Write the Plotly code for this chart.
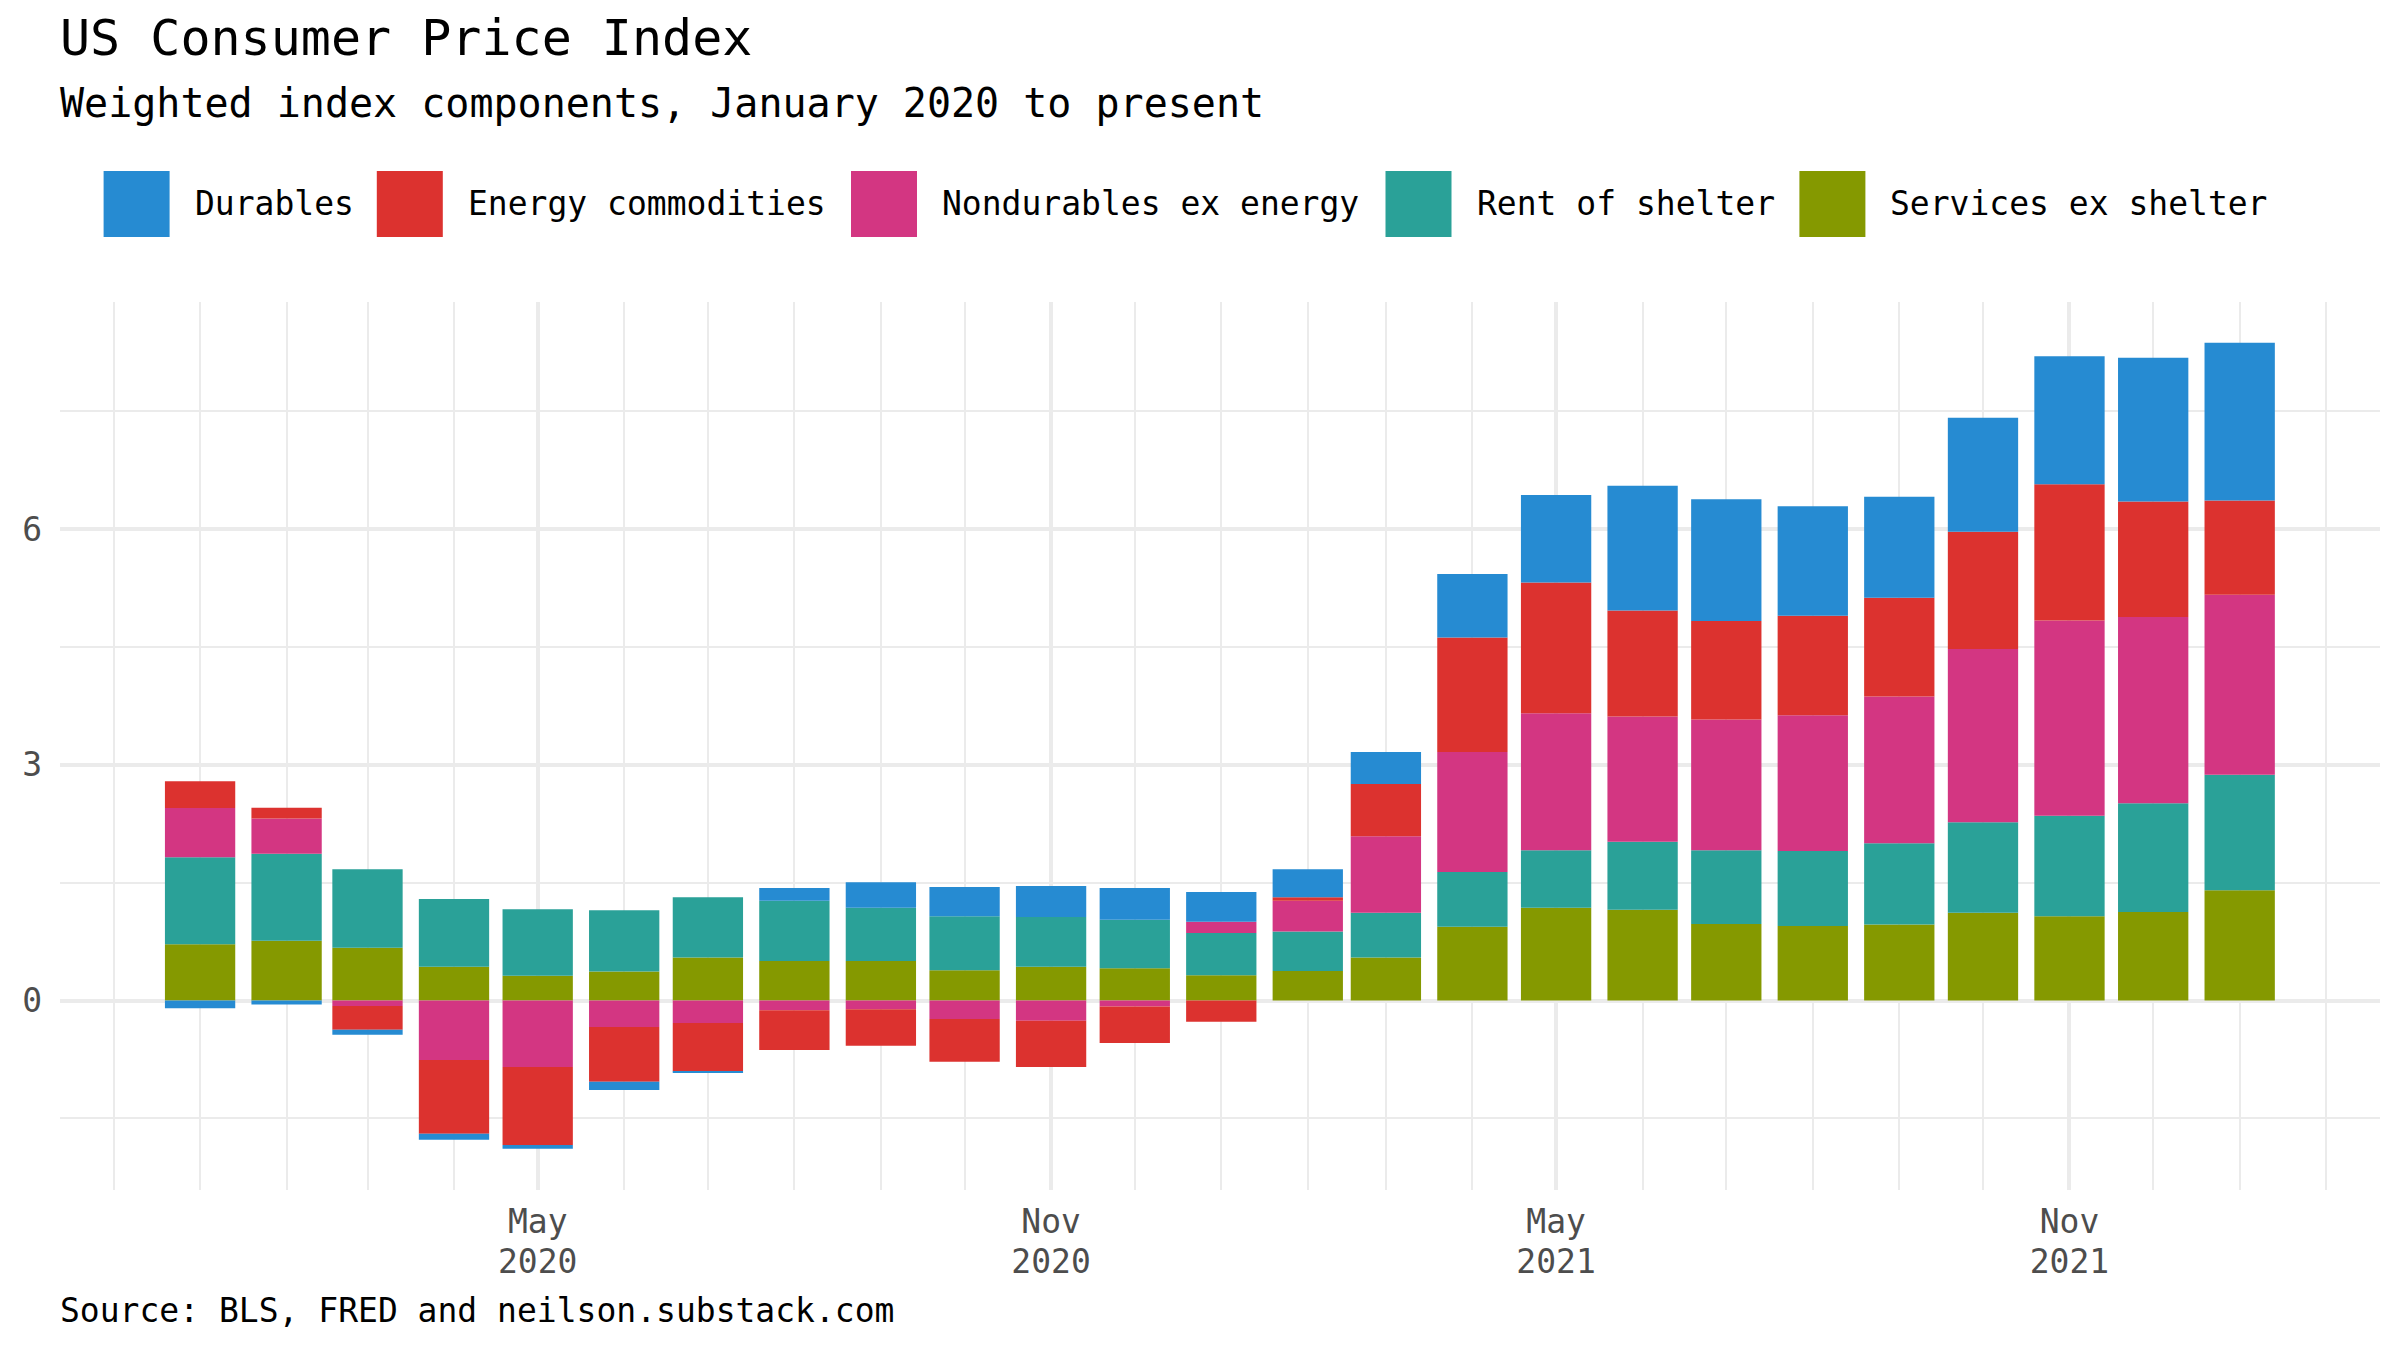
import pandas as pd
import plotly.graph_objects as go

# ---------------- data ----------------
months = pd.date_range("2020-01-01", "2022-01-01", freq="MS").strftime("%Y-%m-%d").tolist()

services_ex_shelter = [0.717, 0.762, 0.673, 0.431, 0.315, 0.369, 0.548, 0.503, 0.503, 0.387, 0.431, 0.413,
                       0.324, 0.378, 0.548, 0.940, 1.182, 1.155, 0.976, 0.949, 0.967, 1.118, 1.073, 1.127, 1.405]
rent_of_shelter = [1.107, 1.107, 1.000, 0.862, 0.849, 0.781, 0.768, 0.768, 0.678, 0.688, 0.634, 0.617,
                   0.536, 0.500, 0.571, 0.697, 0.732, 0.866, 0.938, 0.956, 1.036, 1.153, 1.278, 1.385, 1.470]
nondurables_ex_energy = [0.626, 0.447, -0.067, -0.756, -0.845, -0.337, -0.284, -0.122, -0.109, -0.234, -0.256, -0.076,
                         0.143, 0.393, 0.974, 1.526, 1.743, 1.593, 1.664, 1.725, 1.866, 2.203, 2.485, 2.368, 2.291]
energy_commodities = [0.342, 0.137, -0.304, -0.938, -0.992, -0.697, -0.616, -0.505, -0.465, -0.545, -0.589, -0.462,
                      -0.268, 0.045, 0.665, 1.457, 1.662, 1.350, 1.252, 1.268, 1.258, 1.491, 1.735, 1.472, 1.199]
durables = [-0.096, -0.049, -0.062, -0.077, -0.049, -0.103, -0.010, 0.161, 0.326, 0.370, 0.394, 0.402,
            0.380, 0.357, 0.405, 0.809, 1.116, 1.589, 1.550, 1.393, 1.286, 1.452, 1.628, 1.828, 2.008]

series_names = ["Durables", "Energy commodities", "Nondurables ex energy", "Rent of shelter", "Services ex shelter"]
series_values = [durables, energy_commodities, nondurables_ex_energy, rent_of_shelter, services_ex_shelter]
series_colors = ["#268bd2", "#dc322f", "#d33682", "#2aa198", "#859900"]

x_tick_vals = ["2020-05-01", "2020-11-01", "2021-05-01", "2021-11-01"]
x_tick_month = ["May", "Nov", "May", "Nov"]
x_tick_year = ["2020", "2020", "2021", "2021"]
y_tick_vals = [0, 3, 6]
y_minor_vals = [-1.5, 1.5, 4.5, 7.5]

title_text = "US Consumer Price Index"
subtitle_text = "Weighted index components, January 2020 to present"
caption_text = "Source: BLS, FRED and neilson.substack.com"

# ---------------- layout geometry (viewport pixels) ----------------
VW, VH = 2400, 1350
BODY = 8                      # default page body margin
W, H = VW - 2 * BODY, VH - 2 * BODY
L, R, T, B = 60, 2380, 302, 1190   # plot area in viewport pixels
PW, PH = R - L, B - T
FONT = "DejaVu Sans Mono"
GRID = "#ebebeb"
TICKC = "#4d4d4d"
FS = 33


def xp(px):
    return (px - L) / PW


def yp(py):
    return (B - py) / PH


bar_width_ms = 25.2 * 86400000
minor_months = pd.date_range("2019-12-01", "2022-02-01", freq="MS").strftime("%Y-%m-%d").tolist()

fig = go.Figure()
# stacking order: first trace nearest zero
for name, vals, col in reversed(list(zip(series_names, series_values, series_colors))):
    fig.add_trace(go.Bar(x=months, y=vals, name=name, width=bar_width_ms,
                         marker=dict(color=col, line=dict(width=0)), showlegend=False))

# invisible trace to carry the year-label axis
fig.add_trace(go.Scatter(x=[months[0]], y=[0], xaxis="x2", mode="markers",
                         marker=dict(opacity=0), showlegend=False, hoverinfo="skip"))

tick_font = dict(family=FONT, size=FS, color=TICKC)

fig.update_layout(
    width=W, height=H,
    margin=dict(l=L - BODY, r=W - (R - BODY), t=T - BODY, b=H - (B - BODY), pad=0),
    paper_bgcolor="white", plot_bgcolor="white",
    barmode="relative",
    font=dict(family=FONT, size=FS, color="black"),
    xaxis=dict(
        type="date", range=["2019-11-11 19:00", "2022-02-20 07:00"],
        tickmode="array", tickvals=x_tick_vals, ticktext=x_tick_month,
        showgrid=True, gridcolor=GRID, gridwidth=3.6,
        minor=dict(tickmode="array", tickvals=minor_months, showgrid=True,
                   gridcolor=GRID, gridwidth=1.8, ticks=""),
        zeroline=False, showline=False, ticks="", tickfont=tick_font,
        ticklabelstandoff=9,
    ),
    xaxis2=dict(
        type="date", overlaying="x", matches="x", anchor="y", side="bottom",
        tickmode="array", tickvals=x_tick_vals, ticktext=x_tick_year,
        showgrid=False, zeroline=False, showline=False, ticks="", tickfont=tick_font,
        ticklabelstandoff=49,
    ),
    yaxis=dict(
        range=[-2.41, 8.89], tickmode="array", tickvals=y_tick_vals,
        ticktext=[str(v) for v in y_tick_vals],
        showgrid=True, gridcolor=GRID, gridwidth=3.6,
        minor=dict(tickmode="array", tickvals=y_minor_vals, showgrid=True,
                   gridcolor=GRID, gridwidth=1.8, ticks=""),
        zeroline=False, showline=False, ticks="", tickfont=tick_font,
        ticklabelstandoff=17,
    ),
)

annotations = [
    dict(text=title_text, x=xp(58), y=yp(38.5), xref="paper", yref="paper",
         xanchor="left", yanchor="middle", showarrow=False,
         font=dict(family=FONT, size=50, color="black")),
    dict(text=subtitle_text, x=xp(58), y=yp(102.5), xref="paper", yref="paper",
         xanchor="left", yanchor="middle", showarrow=False,
         font=dict(family=FONT, size=40, color="black")),
    dict(text=caption_text, x=xp(58), y=yp(1310.5), xref="paper", yref="paper",
         xanchor="left", yanchor="middle", showarrow=False,
         font=dict(family=FONT, size=FS, color="black")),
]

# manual legend with large square keys
shapes = []
key_size, key_gap, item_gap, char_w = 66, 25, 21.4, 20.1
kx = 103.6
ky0, ky1 = 171, 237
for name, col in zip(series_names, series_colors):
    shapes.append(dict(type="rect", xref="paper", yref="paper",
                       x0=xp(kx), x1=xp(kx + key_size), y0=yp(ky1), y1=yp(ky0),
                       fillcolor=col, line=dict(width=0), layer="above"))
    tx = kx + key_size + key_gap
    annotations.append(dict(text=name, x=xp(tx - 2), y=yp((ky0 + ky1) / 2), xref="paper", yref="paper",
                            xanchor="left", yanchor="middle", showarrow=False,
                            font=dict(family=FONT, size=FS, color="black")))
    kx = tx + len(name) * char_w + item_gap

fig.update_layout(annotations=annotations, shapes=shapes)

fig.write_html("out.html")
